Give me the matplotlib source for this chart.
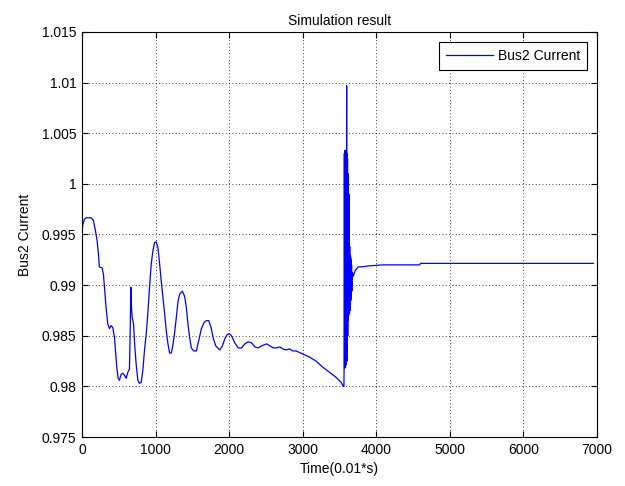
import matplotlib
matplotlib.use('Agg')
import matplotlib.pyplot as plt

# time in 0.01 s steps and bus 2 current (p.u.), before the fault
t_pre = [0, 9, 32, 55, 123, 155, 182, 205, 223, 236, 273, 291, 309, 327, 350, 373,
         395, 418, 441, 455, 473, 491, 509, 532, 555, 577, 600, 623, 645, 655, 664,
         673, 682, 700, 718, 736, 759, 782, 805, 827, 850, 873, 895, 918, 941, 964,
         986, 1009, 1032, 1055, 1077, 1100, 1123, 1145, 1168, 1191, 1214, 1236, 1259,
         1282, 1305, 1327, 1364, 1395, 1418, 1441, 1464, 1486, 1518, 1555, 1586, 1623,
         1659, 1691, 1723, 1755, 1782, 1818, 1873, 1909, 1941, 1973, 2000, 2032, 2077,
         2123, 2168, 2214, 2259, 2305, 2350, 2395, 2441, 2509, 2555, 2600, 2645, 2691,
         2728, 2774, 2819, 2864, 2909, 3000, 3091, 3181, 3272, 3362, 3453, 3521, 3553]
i_pre = [0.9951, 0.9959, 0.9965, 0.99665, 0.99665, 0.9964, 0.9954, 0.9944, 0.9931,
         0.9918, 0.9917, 0.9911, 0.9894, 0.9878, 0.9862, 0.9857, 0.9860, 0.9858,
         0.9849, 0.9835, 0.9819, 0.9808, 0.9806, 0.9812, 0.9813, 0.9811, 0.9808,
         0.9814, 0.9817, 0.9855, 0.9898, 0.9878, 0.9868, 0.9862, 0.9839, 0.9822,
         0.9806, 0.9803, 0.9804, 0.9816, 0.9836, 0.9852, 0.9872, 0.9898, 0.9921,
         0.9934, 0.9942, 0.99427, 0.9937, 0.9921, 0.9904, 0.9888, 0.9872, 0.9855,
         0.9842, 0.9833, 0.9833, 0.9841, 0.9853, 0.9868, 0.9884, 0.9891, 0.9894,
         0.9889, 0.9878, 0.9861, 0.9848, 0.9838, 0.9835, 0.9835, 0.9845, 0.9857,
         0.9863, 0.9865, 0.9865, 0.9858, 0.9848, 0.9840, 0.9836, 0.9840, 0.9847,
         0.9851, 0.9852, 0.9850, 0.9843, 0.9838, 0.9838, 0.9842, 0.9844, 0.9843,
         0.9839, 0.9838, 0.9840, 0.9842, 0.9840, 0.9838, 0.9838, 0.9839, 0.9837,
         0.9836, 0.9837, 0.9835, 0.9835, 0.9832, 0.9829, 0.9825, 0.9819, 0.9814,
         0.9809, 0.9804, 0.9800]

# fault transient
t_fault = [3560, 3563, 3566, 3569, 3572, 3575, 3578, 3581, 3584, 3587, 3590, 3593,
           3597, 3600, 3603, 3606, 3609, 3612, 3615, 3618, 3621, 3624, 3627, 3630,
           3633, 3636, 3639, 3642, 3645, 3648, 3651, 3654, 3657, 3660, 3664, 3668, 3672]
i_fault = [0.9800, 0.9822, 1.0030, 0.9818, 1.0033, 0.9820, 1.0032, 0.9819, 1.0033,
           0.9821, 1.0031, 0.9822, 1.0097, 0.9825, 1.0030, 0.9835, 1.0025, 0.9850,
           1.0010, 0.9865, 1.0005, 0.9870, 0.9990, 0.9872, 0.9950, 0.9872, 0.9938,
           0.9875, 0.9930, 0.9880, 0.9928, 0.9885, 0.9925, 0.9890, 0.9920, 0.9894,
           0.9912]

# recovery to steady state
t_post = [3679, 3690, 3711, 3730, 3756, 3801, 3892, 4095, 4590, 4600, 6950]
i_post = [0.9912, 0.9909, 0.9914, 0.9916, 0.9918, 0.9918, 0.9919, 0.9920, 0.9920,
          0.99215, 0.99215]

t = t_pre + t_fault + t_post
bus2_current = i_pre + i_fault + i_post

plt.rcParams['font.family'] = ['Liberation Sans', 'DejaVu Sans']
plt.rcParams['font.size'] = 10

fig = plt.figure(figsize=(6.25, 4.86), dpi=100)
ax = fig.add_axes([0.1312, 0.1008, 0.824, 0.8334])
ax.plot(t, bus2_current, color='#0000ff', lw=0.9, label='Bus2 Current')

ax.set_xlim(0, 7000)
ax.set_ylim(0.975, 1.015)
ax.set_xticks(range(0, 7001, 1000))
ax.set_yticks([0.975, 0.98, 0.985, 0.99, 0.995, 1.0, 1.005, 1.01, 1.015])
ax.set_yticklabels(['0.975', '0.98', '0.985', '0.99', '0.995', '1', '1.005', '1.01', '1.015'])
ax.tick_params(direction='in', top=True, right=True, length=4, width=0.8, pad=4)
ax.grid(True, color='black', linestyle=(0, (1, 3)), linewidth=0.6)
for s in ax.spines.values():
    s.set_linewidth(0.8)

ax.set_title('Simulation result', fontsize=10, pad=5)
ax.set_xlabel('Time(0.01*s)', labelpad=4)
ax.set_ylabel('Bus2 Current', labelpad=7)

leg = ax.legend(loc='upper right', fancybox=False, framealpha=1, edgecolor='black',
                handlelength=3.4, handletextpad=0.35, borderaxespad=0.7, borderpad=0.5)
leg.get_frame().set_linewidth(0.8)

fig.savefig('out.png', dpi=100)
